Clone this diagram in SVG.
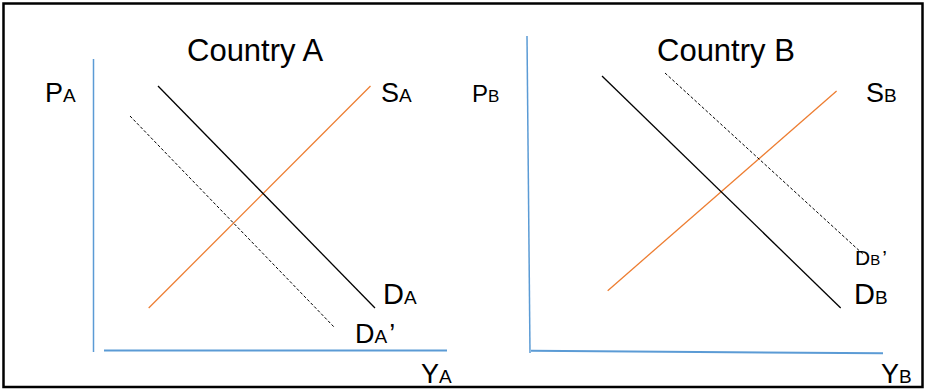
<svg xmlns="http://www.w3.org/2000/svg" width="925" height="389" viewBox="0 0 925 389">
<style>
.t{font-family:"Liberation Sans",Arial,sans-serif;fill:#000}
.title{font-size:31px}
.big{font-size:27px}
.sub{font-size:19px}
.axis{stroke:#5B9BD5;fill:none}
.sup{stroke:#ED7D31;stroke-width:1.3;fill:none}
.dem{stroke:#000;stroke-width:1.3;fill:none}
.dash{stroke:#000;stroke-width:1;stroke-dasharray:3 2;fill:none}
</style>
<rect x="3.5" y="3.5" width="919" height="383.5" fill="#fff" stroke="#000" stroke-width="2.5"/>
<g id="countryA">
  <text class="t title" x="187" y="61">Country A</text>
  <g id="axesA">
    <line class="axis" x1="93.5" y1="59" x2="93.5" y2="352" stroke-width="1.5"/>
    <line class="axis" x1="104" y1="350.5" x2="447" y2="350.5" stroke-width="2"/>
  </g>
  <text class="t big" x="45" y="102">P<tspan class="sub">A</tspan></text>
  <text class="t sub" x="421" y="383"><tspan class="big">Y</tspan>A</text>
</g>
<g id="countryB">
  <text class="t title" x="657" y="61">Country B</text>
  <g id="axesB">
    <line class="axis" x1="527" y1="36" x2="530" y2="353" stroke-width="1.5"/>
    <line class="axis" x1="531" y1="350.7" x2="883" y2="353.3" stroke-width="2"/>
  </g>
  <text class="t big" x="472" y="102" style="font-size:24px">P<tspan style="font-size:17px">B</tspan></text>
  <text class="t sub" x="881" y="383"><tspan class="big">Y</tspan>B</text>
</g>
<g id="connectors">
  <line id="SA" class="sup" x1="148.7" y1="308" x2="370.5" y2="86"/>
  <line id="DA" class="dem" x1="158" y1="86" x2="375" y2="308"/>
  <line id="DA2" class="dash" x1="130" y1="116" x2="335" y2="328"/>
  <line id="SB" class="sup" x1="607.7" y1="290.7" x2="836.6" y2="91"/>
  <line id="DB" class="dem" x1="602" y1="76" x2="840.7" y2="308"/>
  <line id="DB2" class="dash" x1="665" y1="73" x2="864" y2="255"/>
</g>
<g id="labelSA"><text class="t big" x="381" y="102">S<tspan class="sub">A</tspan></text></g>
<g id="labelDA"><text class="t big" x="383" y="304" style="font-size:29px">D<tspan class="sub">A</tspan></text></g>
<g id="labelDA2"><text class="t big" x="355" y="343">D<tspan class="sub">A</tspan><tspan dx="2">’</tspan></text></g>
<g id="labelSB"><text class="t big" x="866" y="102">S<tspan class="sub">B</tspan></text></g>
<g id="labelDB"><text class="t big" x="854" y="304" style="font-size:29px">D<tspan class="sub">B</tspan></text></g>
<g id="labelDB2"><text class="t" x="855" y="265" style="font-size:21px">D<tspan style="font-size:15px">B</tspan><tspan dx="2">’</tspan></text></g>
</svg>
